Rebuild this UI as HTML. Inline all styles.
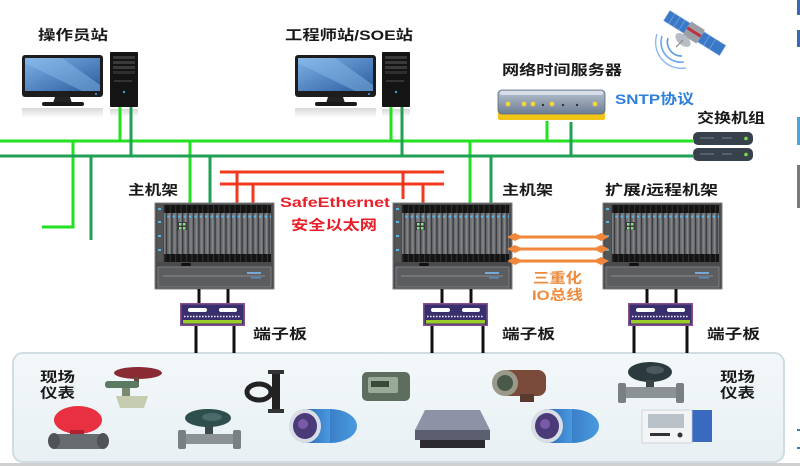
<!DOCTYPE html>
<html>
<head>
<meta charset="utf-8">
<style>
html,body{margin:0;padding:0;background:#fff;}
body{width:800px;height:466px;overflow:hidden;}
svg{display:block;}
.lb{font-family:"Liberation Sans","Noto Sans CJK SC",sans-serif;font-weight:bold;font-size:14px;fill:#1a1a1a;}
</style>
</head>
<body>
<svg width="800" height="466" viewBox="0 0 800 466" xmlns="http://www.w3.org/2000/svg">
<defs>
  <linearGradient id="scr" x1="0" y1="0" x2="1" y2="1">
    <stop offset="0" stop-color="#7fb2e6"/>
    <stop offset="1" stop-color="#2a5c9e"/>
  </linearGradient>
  <linearGradient id="refl" x1="0" y1="0" x2="0" y2="1">
    <stop offset="0" stop-color="#d8d8d8"/>
    <stop offset="1" stop-color="#ffffff"/>
  </linearGradient>
  <linearGradient id="panel" x1="0" y1="0" x2="0" y2="1">
    <stop offset="0" stop-color="#f3f8fa"/>
    <stop offset="1" stop-color="#e8f0f3"/>
  </linearGradient>
  <linearGradient id="srv" x1="0" y1="0" x2="0" y2="1">
    <stop offset="0" stop-color="#b8c4d2"/>
    <stop offset="1" stop-color="#6d7d92"/>
  </linearGradient>
  <linearGradient id="blu" x1="0" y1="0" x2="1" y2="0">
    <stop offset="0" stop-color="#2a66b0"/>
    <stop offset="1" stop-color="#4a9ae0"/>
  </linearGradient>
  <pattern id="slots" x="0" y="0" width="5.4" height="10" patternUnits="userSpaceOnUse">
    <rect x="0" y="0" width="5.4" height="10" fill="#6e7074"/>
    <rect x="0" y="0" width="1.4" height="10" fill="#3a3b3e"/>
    <rect x="3.2" y="0" width="0.8" height="10" fill="#8e9094"/>
  </pattern>
  <pattern id="blk" x="0" y="0" width="5.4" height="10" patternUnits="userSpaceOnUse">
    <rect x="0" y="0" width="5.4" height="10" fill="#141414"/>
    <rect x="4" y="0" width="1" height="10" fill="#333"/>
  </pattern>
  <pattern id="bdots" x="0" y="0" width="5.4" height="4" patternUnits="userSpaceOnUse">
    <rect x="1.5" y="0.5" width="2.4" height="2.2" fill="#5ab4e6"/>
  </pattern>
  <g id="rack">
    <rect x="0" y="0" width="119" height="86" fill="#4a4b4f" stroke="#808080" stroke-width="1"/>
    <rect x="9" y="2" width="107" height="8" fill="url(#blk)"/>
    <rect x="9" y="10" width="107" height="42" fill="url(#slots)"/>
    <rect x="9" y="11" width="107" height="4" fill="url(#bdots)"/>
    <rect x="23" y="19" width="9" height="8" fill="#3a3b3e"/>
    <rect x="24" y="20" width="2.5" height="2.5" fill="#8fe08a"/>
    <rect x="28" y="20" width="2.5" height="2.5" fill="#8fe08a"/>
    <rect x="24" y="24" width="2.5" height="2.5" fill="#8fe08a"/>
    <rect x="28" y="24" width="2.5" height="2.5" fill="#8fe08a"/>
    <rect x="9" y="51" width="107" height="8" fill="url(#blk)"/>
    <rect x="2" y="2" width="6" height="57" fill="#555"/>
    <rect x="3" y="5" width="3" height="2" fill="#5ab4e6"/>
    <rect x="3" y="18" width="3" height="2" fill="#5ab4e6"/>
    <rect x="3" y="32" width="3" height="2" fill="#5ab4e6"/>
    <rect x="3" y="46" width="3" height="2" fill="#5ab4e6"/>
    <rect x="26" y="60" width="10" height="3" rx="1.5" fill="#111"/>
    <rect x="3" y="64" width="113" height="20" fill="#5c5d61" stroke="#8a8a8a" stroke-width="0.8"/>
    <line x1="8" y1="73" x2="110" y2="73" stroke="#9a9a9a" stroke-width="0.8"/>
    <rect x="92" y="69" width="14" height="2" fill="#7aa8d8"/>
    <rect x="96" y="74" width="10" height="1.5" fill="#5a8ac0"/>
  </g>
  <g id="tb">
    <rect x="0.75" y="0.75" width="63.5" height="21.5" fill="#3a2f6e" stroke="#8c4f8c" stroke-width="1.5"/>
    <rect x="8" y="5" width="19" height="4" rx="2" fill="#fff"/>
    <rect x="39" y="5" width="18" height="4" rx="2" fill="#fff"/>
    <line x1="4" y1="13.5" x2="61" y2="13.5" stroke="#e8e8f8" stroke-width="1.6" stroke-dasharray="1.6 1.4"/>
    <rect x="3" y="17" width="59" height="3.5" fill="#9ccc2a"/>
  </g>
  <g id="mon">
    <rect x="0" y="0" width="81" height="42" rx="3" fill="#1d1d1d"/>
    <rect x="3" y="3" width="75" height="33" fill="url(#scr)"/>
    <polygon points="3,3 40,3 78,30 78,36 60,36 3,8" fill="#8cbcea" opacity="0.45"/>
    <circle cx="74" cy="39" r="1" fill="#4aa0ff"/>
    <polygon points="33,42 48,42 50,48 31,48" fill="#222"/>
    <rect x="20" y="47" width="42" height="4" rx="2" fill="#1a1a1a"/>
    <rect x="0" y="53" width="81" height="10" fill="url(#refl)"/>
  </g>
  <g id="tower">
    <rect x="0" y="0" width="28" height="55" rx="1" fill="#141414"/>
    <rect x="3" y="4" width="22" height="3" fill="#3a3a3a"/>
    <rect x="3" y="9" width="22" height="3" fill="#3a3a3a"/>
    <rect x="3" y="14" width="22" height="3" fill="#3a3a3a"/>
    <rect x="3" y="19" width="22" height="3" fill="#2e2e2e"/>
    <rect x="4" y="28" width="18" height="2" fill="#333"/>
    <circle cx="14" cy="40" r="1.2" fill="#3aa0e0"/>
    <rect x="0" y="57" width="28" height="8" fill="url(#refl)"/>
  </g>
  <g id="btrans">
    <ellipse cx="40" cy="18" rx="27" ry="17" fill="url(#blu)"/>
    <rect x="13" y="1" width="27" height="34" fill="url(#blu)"/>
    <ellipse cx="15" cy="18" rx="16" ry="17" fill="#d8dde6"/>
    <ellipse cx="15" cy="18" rx="12" ry="13" fill="#4a3a78"/>
    <ellipse cx="13" cy="16" rx="5" ry="5" fill="#7a5aa8"/>
  </g>
</defs>

<!-- top labels -->
<text class="lb" x="38" y="40" textLength="70" lengthAdjust="spacingAndGlyphs">操作员站</text>
<text class="lb" x="285" y="40" textLength="128" lengthAdjust="spacingAndGlyphs">工程师站/SOE站</text>
<text class="lb" x="502" y="75" textLength="120" lengthAdjust="spacingAndGlyphs">网络时间服务器</text>
<text class="lb" x="615" y="104" textLength="79" lengthAdjust="spacingAndGlyphs" style="fill:#2f80dc">SNTP协议</text>
<text class="lb" x="697" y="123" textLength="68" lengthAdjust="spacingAndGlyphs">交换机组</text>

<!-- computers -->
<use href="#mon" x="22" y="55"/>
<use href="#tower" x="110" y="52"/>
<use href="#mon" x="295" y="55"/>
<use href="#tower" x="382" y="52"/>

<!-- satellite -->
<g transform="rotate(32 693 32)">
  <rect x="662" y="26" width="24" height="12" fill="#3a78c8" stroke="#9ab8e0" stroke-width="0.6"/>
  <line x1="668" y1="26" x2="668" y2="38" stroke="#9ab8e0" stroke-width="0.5"/>
  <line x1="674" y1="26" x2="674" y2="38" stroke="#9ab8e0" stroke-width="0.5"/>
  <line x1="680" y1="26" x2="680" y2="38" stroke="#9ab8e0" stroke-width="0.5"/>
  <rect x="702" y="26" width="26" height="12" fill="#3a78c8" stroke="#9ab8e0" stroke-width="0.6"/>
  <line x1="709" y1="26" x2="709" y2="38" stroke="#9ab8e0" stroke-width="0.5"/>
  <line x1="716" y1="26" x2="716" y2="38" stroke="#9ab8e0" stroke-width="0.5"/>
  <rect x="686" y="24" width="16" height="16" fill="#9a9ea6"/>
  <rect x="686" y="30" width="16" height="3" fill="#c03040"/>
</g>
<ellipse cx="683" cy="40" rx="9" ry="5" fill="#b8bcc4" transform="rotate(40 683 40)"/>
<line x1="683" y1="40" x2="676" y2="47" stroke="#888" stroke-width="1.2"/>
<path d="M668,38 A14,14 0 0 0 682,56" fill="none" stroke="#5a9ae0" stroke-width="1.6"/>
<path d="M662,36 A20,20 0 0 0 684,62" fill="none" stroke="#6aa8e8" stroke-width="1.6"/>
<path d="M657,34 A26,26 0 0 0 686,68" fill="none" stroke="#8ab8ee" stroke-width="1.4"/>

<!-- time server -->
<rect x="498" y="111" width="107" height="9" rx="2" fill="#f2c418"/>
<rect x="498" y="90" width="107" height="24" rx="4" fill="url(#srv)" stroke="#5a6a80" stroke-width="0.8"/>
<rect x="500" y="91" width="103" height="4" rx="2" fill="#d6dde6"/>
<circle cx="508" cy="104" r="2.4" fill="#f4d43a"/>
<circle cx="524" cy="104" r="2.4" fill="#f4d43a"/>
<circle cx="533" cy="104" r="2.4" fill="#f4d43a"/>
<circle cx="543" cy="105" r="1.2" fill="#333"/>
<circle cx="552" cy="104" r="2.4" fill="#f4d43a"/>
<circle cx="563" cy="105" r="1.2" fill="#333"/>
<circle cx="577" cy="105" r="1.2" fill="#333"/>
<circle cx="595" cy="104" r="2.4" fill="#f4d43a"/>

<!-- switches -->
<rect x="693" y="132" width="60" height="13" rx="5" fill="#36414c"/>
<rect x="693" y="148" width="60" height="13" rx="5" fill="#36414c"/>
<circle cx="746" cy="138.5" r="1.8" fill="#7ae04a"/>
<circle cx="746" cy="154.5" r="1.8" fill="#7ae04a"/>
<rect x="700" y="137" width="14" height="2" fill="#55606a"/>
<rect x="700" y="153" width="14" height="2" fill="#55606a"/>
<rect x="722" y="137" width="10" height="2" fill="#55606a"/>
<rect x="722" y="153" width="10" height="2" fill="#55606a"/>

<!-- green network lines -->
<g stroke="#22e022" stroke-width="3" fill="none">
  <line x1="0" y1="141" x2="694" y2="141"/>
  <line x1="120" y1="107" x2="120" y2="141"/>
  <line x1="391" y1="107" x2="391" y2="141"/>
  <line x1="547" y1="121" x2="547" y2="141"/>
  <polyline points="73,141 73,227 42,227"/>
  <line x1="190" y1="141" x2="190" y2="204"/>
  <line x1="470" y1="141" x2="470" y2="204"/>
</g>
<g stroke="#1fa054" stroke-width="3" fill="none">
  <line x1="0" y1="156" x2="694" y2="156"/>
  <line x1="131" y1="107" x2="131" y2="156"/>
  <line x1="402" y1="107" x2="402" y2="156"/>
  <line x1="571" y1="122" x2="571" y2="156"/>
  <line x1="91" y1="156" x2="91" y2="240"/>
  <line x1="210" y1="156" x2="210" y2="204"/>
  <line x1="491" y1="156" x2="491" y2="204"/>
</g>

<!-- red SafeEthernet -->
<g stroke="#f23a1e" stroke-width="3" fill="none">
  <line x1="220" y1="172" x2="444" y2="172"/>
  <line x1="220" y1="184" x2="444" y2="184"/>
  <line x1="237" y1="172" x2="237" y2="204"/>
  <line x1="253" y1="184" x2="253" y2="204"/>
  <line x1="403" y1="172" x2="403" y2="199"/>
  <line x1="423" y1="184" x2="423" y2="204"/>
</g>
<text class="lb" x="280" y="207" textLength="110" lengthAdjust="spacingAndGlyphs" style="fill:#e8202a">SafeEthernet</text>
<text class="lb" x="291" y="230" textLength="86" lengthAdjust="spacingAndGlyphs" style="fill:#e8202a">安全以太网</text>

<!-- rack labels -->
<text class="lb" x="128" y="195" textLength="50" lengthAdjust="spacingAndGlyphs">主机架</text>
<text class="lb" x="502" y="195" textLength="51" lengthAdjust="spacingAndGlyphs">主机架</text>
<text class="lb" x="605" y="195" textLength="113" lengthAdjust="spacingAndGlyphs">扩展/远程机架</text>

<!-- racks -->
<use href="#rack" x="155" y="203"/>
<use href="#rack" x="393" y="203"/>
<use href="#rack" x="603" y="203"/>

<!-- orange IO bus -->
<g stroke="#f0873a" stroke-width="3">
  <line x1="514" y1="237" x2="602" y2="237"/>
  <line x1="514" y1="249" x2="602" y2="249"/>
  <line x1="514" y1="261" x2="602" y2="261"/>
</g>
<g fill="#f0873a">
  <polygon points="507,237 515,233 523,237 515,241"/>
  <polygon points="593,237 601,233 609,237 601,241"/>
  <polygon points="507,249 515,245 523,249 515,253"/>
  <polygon points="593,249 601,245 609,249 601,253"/>
  <polygon points="507,261 515,257 523,261 515,265"/>
  <polygon points="593,261 601,257 609,261 601,265"/>
</g>
<text class="lb" x="533" y="283" textLength="49" lengthAdjust="spacingAndGlyphs" style="fill:#f08a3c">三重化</text>
<text class="lb" x="532" y="300" textLength="51" lengthAdjust="spacingAndGlyphs" style="fill:#f08a3c">IO总线</text>

<!-- bottom panel -->
<rect x="13" y="353" width="771" height="109" rx="10" fill="url(#panel)" stroke="#cfdde2" stroke-width="2"/>
<rect x="0" y="463" width="800" height="3" fill="#d0d0d0"/>

<!-- black connection lines -->
<g stroke="#111" stroke-width="3">
  <line x1="199" y1="289" x2="199" y2="304"/>
  <line x1="228" y1="289" x2="228" y2="304"/>
  <line x1="196" y1="325" x2="196" y2="353"/>
  <line x1="234" y1="325" x2="234" y2="353"/>
  <line x1="442" y1="289" x2="442" y2="304"/>
  <line x1="471" y1="289" x2="471" y2="304"/>
  <line x1="432" y1="325" x2="432" y2="353"/>
  <line x1="483" y1="325" x2="483" y2="353"/>
  <line x1="647" y1="289" x2="647" y2="304"/>
  <line x1="676" y1="289" x2="676" y2="304"/>
  <line x1="634" y1="325" x2="634" y2="353"/>
  <line x1="687" y1="325" x2="687" y2="353"/>
</g>
<!-- terminal boards -->
<use href="#tb" x="180" y="303"/>
<use href="#tb" x="423" y="303"/>
<use href="#tb" x="628" y="303"/>
<text class="lb" x="253" y="339" textLength="54" lengthAdjust="spacingAndGlyphs">端子板</text>
<text class="lb" x="502" y="339" textLength="53" lengthAdjust="spacingAndGlyphs">端子板</text>
<text class="lb" x="707" y="339" textLength="53" lengthAdjust="spacingAndGlyphs">端子板</text>

<!-- field instrument labels -->
<text class="lb" x="40" y="382" textLength="35" lengthAdjust="spacingAndGlyphs">现场</text>
<text class="lb" x="40" y="398" textLength="35" lengthAdjust="spacingAndGlyphs">仪表</text>
<text class="lb" x="720" y="382" textLength="35" lengthAdjust="spacingAndGlyphs">现场</text>
<text class="lb" x="720" y="398" textLength="35" lengthAdjust="spacingAndGlyphs">仪表</text>

<!-- instruments -->
<!-- control valve top-left -->
<ellipse cx="138" cy="373" rx="24" ry="6" fill="#8a2a32"/>
<rect x="134" y="377" width="5" height="10" fill="#6a4a40"/>
<rect x="105" y="381" width="34" height="7" rx="3" fill="#5a7a62"/>
<rect x="122" y="388" width="8" height="8" fill="#7a8a70"/>
<polygon points="116,396 148,396 144,408 120,408" fill="#c6ccb0"/>
<!-- d-pipe -->
<rect x="272" y="370" width="8" height="43" fill="#222"/>
<rect x="268" y="370" width="16" height="4" fill="#333"/>
<rect x="268" y="409" width="16" height="4" fill="#333"/>
<ellipse cx="259" cy="392" rx="12" ry="8" fill="none" stroke="#222" stroke-width="5"/>
<!-- grey box -->
<rect x="362" y="372" width="48" height="29" rx="5" fill="#5e6e5e"/>
<rect x="368" y="377" width="30" height="16" rx="2" fill="#9aaa98"/>
<rect x="371" y="381" width="18" height="6" fill="#3a4a3a"/>
<!-- red valve bottom-left -->
<ellipse cx="78" cy="420" rx="24" ry="14" fill="#e83040"/>
<rect x="70" y="430" width="14" height="6" fill="#b02030"/>
<rect x="50" y="434" width="56" height="15" rx="6" fill="#676c70"/>
<ellipse cx="54" cy="441" rx="6" ry="8" fill="#505458"/>
<ellipse cx="103" cy="441" rx="6" ry="8" fill="#505458"/>
<!-- green flowmeter -->
<ellipse cx="208" cy="418" rx="23" ry="9" fill="#2e4e4e"/>
<ellipse cx="212" cy="417" rx="10" ry="4" fill="#4a6a6a"/>
<rect x="205" y="426" width="8" height="9" fill="#3a4a4a"/>
<rect x="184" y="434" width="52" height="10" fill="#8c9294"/>
<rect x="178" y="430" width="8" height="19" rx="2" fill="#7a8082"/>
<rect x="233" y="430" width="8" height="19" rx="2" fill="#7a8082"/>
<!-- blue transmitter 1 -->
<use href="#btrans" x="290" y="408"/>
<!-- brown transmitter -->
<rect x="500" y="370" width="46" height="26" rx="8" fill="#7a4a3a"/>
<rect x="520" y="394" width="14" height="8" fill="#5a3a2e"/>
<circle cx="505" cy="383" r="13" fill="#9a9a8a"/>
<circle cx="505" cy="383" r="8" fill="#4a5a4a"/>
<!-- grey box instrument -->
<polygon points="425,410 480,410 490,430 415,430" fill="#8e92a6"/>
<rect x="415" y="430" width="75" height="10" fill="#5a5e6e"/>
<rect x="420" y="440" width="65" height="8" fill="#2a2a30"/>
<!-- blue transmitter 2 -->
<use href="#btrans" x="532" y="408"/>
<!-- dark flowmeter right -->
<ellipse cx="650" cy="372" rx="22" ry="10" fill="#2a3a3e"/>
<ellipse cx="655" cy="370" rx="9" ry="4" fill="#4a5a5e"/>
<rect x="646" y="380" width="8" height="8" fill="#3a4448"/>
<rect x="624" y="387" width="54" height="11" fill="#8c9294"/>
<rect x="618" y="383" width="8" height="20" rx="2" fill="#7a8082"/>
<rect x="676" y="383" width="8" height="20" rx="2" fill="#7a8082"/>
<!-- analyzer box -->
<rect x="690" y="410" width="22" height="32" fill="#3a6ac0"/>
<rect x="642" y="410" width="50" height="33" fill="#f2f4f6" stroke="#c8ccd2" stroke-width="0.8"/>
<rect x="648" y="414" width="36" height="14" fill="#b8c2c8"/>
<rect x="650" y="433" width="20" height="3" fill="#333"/>
<circle cx="680" cy="435" r="2.5" fill="#333"/>

<!-- right edge artifacts -->
<rect x="797" y="0" width="3" height="15" fill="#3a6ab0"/>
<rect x="797" y="30" width="3" height="17" fill="#3a6ab0"/>
<rect x="797" y="117" width="3" height="28" fill="#4aa8d8"/>
<rect x="797" y="165" width="3" height="43" fill="#7a7a7a"/>
<rect x="797" y="429" width="3" height="2" fill="#3a7ac0"/>
<rect x="797" y="447" width="3" height="2" fill="#3a7ac0"/>
</svg>
</body>
</html>
